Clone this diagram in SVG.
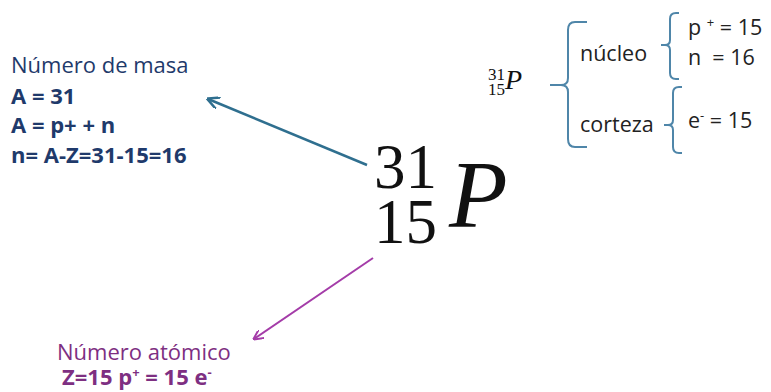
<svg xmlns="http://www.w3.org/2000/svg" width="771" height="392" viewBox="0 0 771 392">
<defs>
<style>
.lbl{font-family:"Open Sans","Liberation Sans",sans-serif;}
.mass{fill:#1f3a6b;font-size:22px;}
.atom{fill:#7e2f82;font-size:22px;}
.b{font-weight:bold;}
.math{font-family:"Liberation Serif","DejaVu Serif",serif;fill:#111;}
.br{fill:none;stroke:#4f86a9;stroke-width:2;}
.side{font-family:"Open Sans","Liberation Sans",sans-serif;fill:#222;font-size:21.5px;white-space:pre;}
</style>
<marker id="ab" viewBox="0 0 10 10" refX="9" refY="5" markerWidth="5" markerHeight="5" orient="auto"><path d="M0,0 L10,5 L0,10" fill="none" stroke="#2f6f8f" stroke-width="2"/></marker>
<marker id="ap" viewBox="0 0 10 10" refX="9" refY="5" markerWidth="5" markerHeight="5" orient="auto"><path d="M0,0 L10,5 L0,10" fill="none" stroke="#a43ca8" stroke-width="2"/></marker>
</defs>
<rect width="771" height="392" fill="#fff"/>
<g id="connectors">
<line x1="367" y1="165" x2="208" y2="99" stroke="#2f6f8f" stroke-width="2.5" marker-end="url(#ab)"/>
<line x1="373" y1="258" x2="254" y2="339" stroke="#a43ca8" stroke-width="2" marker-end="url(#ap)"/>
</g>
<g id="masa" class="lbl">
<text x="11" y="73" class="mass">Número de masa</text>
<text x="11" y="104" class="mass b">A = 31</text>
<text x="11" y="133" class="mass b">A = p+ + n</text>
<text x="11" y="163" class="mass b">n= A-Z=31-15=16</text>
</g>
<g id="atomico" class="lbl">
<text x="57" y="360" class="atom">Número atómico</text>
<text x="62" y="385" class="atom b">Z=15 p<tspan dy="-8" font-size="13">+</tspan><tspan dy="8"> = 15 e</tspan><tspan dy="-8" font-size="13">-</tspan></text>
</g>
<g id="simbolo" class="math">
<text x="374" y="188" font-size="63">31</text>
<text x="374" y="243" font-size="63">15</text>
<text x="449" y="227" font-size="96" font-style="italic">P</text>
</g>
<g id="simbolo-small" class="math">
<text x="488" y="80" font-size="17">31</text>
<text x="488" y="95" font-size="17">15</text>
<text x="505" y="89" font-size="28" font-style="italic">P</text>
</g>
<g id="brace-main">
<path class="br" d="M587,22 H575 Q568,22 568,30 V78 Q568,85 561,85 H550 M561,85 Q568,85 568,92 V139 Q568,147 575,147 H587"/>
</g>
<g id="nucleo">
<text x="580" y="61" class="side">núcleo</text>
<path class="br" d="M679,13 H676 Q670,13 670,19 V40 Q670,45 665,45 H661 M665,45 Q670,45 670,50 V73 Q670,79 676,79 H679"/>
<text x="688" y="35" class="side">p <tspan dy="-8" font-size="13">+</tspan><tspan dy="8"> = 15</tspan></text>
<text x="688" y="65" class="side" xml:space="preserve">n  = 16</text>
</g>
<g id="corteza">
<text x="580" y="132" class="side">corteza</text>
<path class="br" d="M682,87 H679 Q673,87 673,93 V120 Q673,125 668,125 H664 M668,125 Q673,125 673,130 V147 Q673,153 679,153 H682"/>
<text x="688" y="128" class="side">e<tspan dy="-8" font-size="13">-</tspan><tspan dy="8"> = 15</tspan></text>
</g>
</svg>
